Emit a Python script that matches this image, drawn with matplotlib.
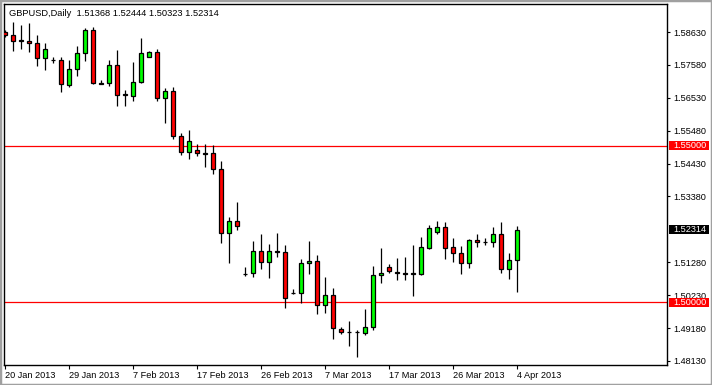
import matplotlib
matplotlib.use('Agg')
import matplotlib.pyplot as plt
import matplotlib.transforms as mtransforms
from matplotlib.patches import Rectangle
import pandas as pd

plt.rcParams['font.family'] = ['Liberation Sans', 'DejaVu Sans']

# daily bars, broker has sunday sessions (no saturdays)
dates = [d for d in pd.date_range('2013-01-20', '2013-04-04') if d.weekday() != 5]

opens = [1.5863, 1.5853, 1.5837, 1.5834, 1.5828, 1.5779, 1.5775, 1.5774, 1.5695, 1.5744,
         1.5795, 1.5869, 1.5699, 1.5699, 1.5757, 1.5664, 1.5660, 1.5702, 1.5784, 1.5799,
         1.5653, 1.5675, 1.5531, 1.5481, 1.5486, 1.5477, 1.5476, 1.5425, 1.5223, 1.5260,
         1.5092, 1.5093, 1.5164, 1.5128, 1.5164, 1.5160, 1.5030, 1.5029, 1.5125, 1.5132,
         1.4992, 1.5024, 1.4914, 1.4905, 1.4905, 1.4902, 1.4921, 1.5087, 1.5114, 1.5098,
         1.5093, 1.5093, 1.5090, 1.5175, 1.5226, 1.5240, 1.5177, 1.5158, 1.5125, 1.5200,
         1.5194, 1.5192, 1.5218, 1.5106, 1.51368]
highs = [1.5869, 1.5895, 1.5885, 1.5893, 1.5854, 1.5829, 1.5784, 1.5782, 1.5774, 1.5818,
         1.5877, 1.5880, 1.5710, 1.5774, 1.5806, 1.5678, 1.5768, 1.5845, 1.5802, 1.5809,
         1.5685, 1.5686, 1.5540, 1.5550, 1.5506, 1.5506, 1.5502, 1.5450, 1.5272, 1.5321,
         1.5114, 1.5196, 1.5218, 1.5187, 1.5221, 1.5182, 1.5043, 1.5138, 1.5196, 1.5152,
         1.5080, 1.5047, 1.4921, 1.4941, 1.4912, 1.4978, 1.5117, 1.5173, 1.5123, 1.5142,
         1.5144, 1.5184, 1.5209, 1.5246, 1.5260, 1.5257, 1.5206, 1.5180, 1.5202, 1.5218,
         1.5205, 1.5241, 1.5258, 1.5159, 1.52444]
lows = [1.5847, 1.5803, 1.5809, 1.5800, 1.5755, 1.5742, 1.5765, 1.5672, 1.5688, 1.5723,
        1.5770, 1.5698, 1.5697, 1.5691, 1.5627, 1.5627, 1.5644, 1.5701, 1.5782, 1.5644,
        1.5572, 1.5522, 1.5471, 1.5459, 1.5467, 1.5433, 1.5410, 1.5189, 1.5127, 1.5231,
        1.5085, 1.5082, 1.5108, 1.5077, 1.5146, 1.4981, 1.5026, 1.4997, 1.5091, 1.4962,
        1.4965, 1.4882, 1.4899, 1.4862, 1.4827, 1.4896, 1.4912, 1.5063, 1.5095, 1.5070,
        1.5072, 1.5022, 1.5089, 1.5172, 1.5219, 1.5140, 1.5130, 1.5090, 1.5109, 1.5176,
        1.5184, 1.5178, 1.5095, 1.5074, 1.50323]
closes = [1.5853, 1.5834, 1.5834, 1.5827, 1.5779, 1.5808, 1.5773, 1.5696, 1.5744, 1.5795,
          1.5869, 1.5699, 1.5698, 1.5757, 1.5663, 1.5662, 1.5703, 1.5797, 1.5799, 1.5653,
          1.5675, 1.5531, 1.5481, 1.5514, 1.5476, 1.5475, 1.5425, 1.5223, 1.5260, 1.5245,
          1.5091, 1.5164, 1.5128, 1.5164, 1.5161, 1.5013, 1.5029, 1.5125, 1.5132, 1.4992,
          1.5024, 1.4918, 1.4906, 1.4904, 1.4904, 1.4921, 1.5087, 1.5093, 1.5101, 1.5093,
          1.5092, 1.5092, 1.5177, 1.5237, 1.5240, 1.5175, 1.5157, 1.5125, 1.5200, 1.5192,
          1.5193, 1.5218, 1.5106, 1.5135, 1.52314]

yticks = [1.58630, 1.57580, 1.56530, 1.55480, 1.54430, 1.53380,
          1.51280, 1.50230, 1.49180, 1.48130]
levels = [1.55000, 1.50000]

fig = plt.figure(figsize=(7.12, 3.85), dpi=100)
fig.patch.set_facecolor('white')
fig.patches.append(Rectangle((0, 0), 1, 1, transform=fig.transFigure,
                             facecolor='none', edgecolor='#a0a0a0', linewidth=2.5))
ax = fig.add_axes([4 / 712, 1 - 365 / 385, 663 / 712, 361 / 385])

x = list(range(len(dates)))
ax.vlines(x, lows, highs, color='black', linewidth=0.9, zorder=2)
cols = ['#00ff00' if c >= o else '#ff0000' for o, c in zip(opens, closes)]
ax.bar(x, [c - o for o, c in zip(opens, closes)], bottom=opens, width=0.6,
       color=cols, edgecolor='black', linewidth=0.9, zorder=3)

for lv in levels:
    ax.axhline(lv, color='#ff0000', linewidth=0.9, zorder=1)

ax.set_xlim(-0.125, 82.75)
ax.set_ylim(1.48002, 1.59524)

ax.yaxis.tick_right()
ax.set_yticks(yticks)
ax.set_yticklabels([f'{t:.5f}' for t in yticks])
ax.tick_params(axis='y', direction='out', length=2, width=0.8, pad=2.5, labelsize=6.6)

xt = x[::8]
ax.set_xticks(xt)
ax.set_xticklabels([f'{dates[i].day} {dates[i]:%b %Y}' for i in xt], ha='left')
ax.tick_params(axis='x', direction='out', length=3, width=0.8, pad=1.5, labelsize=6.6)

for s in ax.spines.values():
    s.set_linewidth(1.0)

blend = mtransforms.blended_transform_factory(ax.transAxes, ax.transData)


def price_tag(price, face):
    ax.add_patch(Rectangle((1.003, price - 0.00143), 0.0603, 0.00287, transform=blend,
                           facecolor=face, edgecolor='none', clip_on=False, zorder=5))
    ax.text(1.009, price, f'{price:.5f}', transform=blend, color='white',
            va='center', ha='left', fontsize=6.6, zorder=6, clip_on=False)


for lv in levels:
    price_tag(lv, '#ff0000')
price_tag(closes[-1], 'black')

title = 'GBPUSD,Daily  ' + ' '.join(f'{v:.5f}' for v in
                                     (opens[-1], highs[-1], lows[-1], closes[-1]))
ax.text(0.008, 0.987, title, transform=ax.transAxes, va='top', ha='left',
        fontsize=6.7, color='black')

fig.savefig('out.png', dpi=100)
